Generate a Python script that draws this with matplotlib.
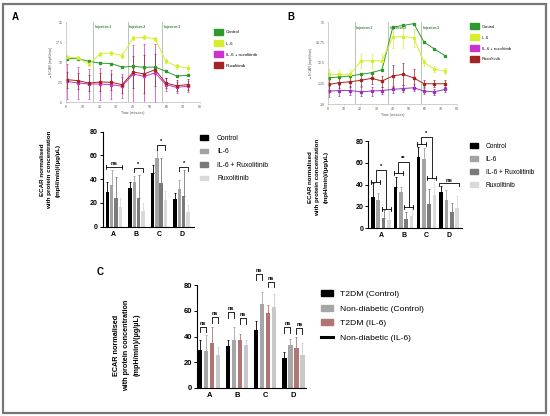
import matplotlib
matplotlib.use('Agg')
import matplotlib.pyplot as plt
import numpy as np
from matplotlib.patches import Patch, Rectangle
from matplotlib.lines import Line2D

plt.rcParams['font.family'] = ['Liberation Sans', 'DejaVu Sans']

# ---------------- data ----------------
time_min = [0.5, 7, 13.8, 20.5, 27, 33.5, 40.2, 46.6, 53.2, 59.6, 66, 72.6]
injections_A = [16.3, 36.8, 57.3]
injections_B = [16.5, 37.2, 57.9]
injection_labels = ['Injection 1', 'Injection 2', 'Injection 3']
line_groups = ['Control', 'IL-6', 'IL-6 + ruxolitinib', 'Ruxolitinib']

ctrl_A = [11.25, 11.25, 10.25, 9.6, 9.4, 8.1, 8.4, 8.0, 8.1, 6.5, 4.75, 5.0]
ctrl_A_err = [0.5, 0.5, 0.5, 0.5, 0.4, 0.4, 0.5, 0.5, 0.5, 0.4, 0.4, 0.4]
il6_A = [11.9, 11.5, 9.25, 13.1, 13.4, 12.4, 19.0, 19.25, 18.75, 10.25, 8.4, 7.75]
il6_A_err = [0.8, 0.8, 0.8, 0.8, 0.8, 0.8, 0.8, 0.8, 0.8, 0.8, 1.0, 1.0]
ilrux_A = [2.75, 2.1, 1.75, 1.75, 1.5, 0.9, 5.5, 4.6, 5.9, 1.5, 0.5, 0.9]
ilrux_A_err = [6.5, 6.0, 5.5, 6.0, 5.5, 4.5, 11.0, 12.0, 11.0, 2.5, 2.0, 2.0]
rux_A = [3.4, 3.0, 2.1, 2.5, 2.4, 1.5, 6.25, 5.5, 7.1, 2.1, 1.1, 1.5]
rux_A_err = [3.0, 3.0, 3.0, 3.5, 3.0, 3.0, 6.0, 7.0, 6.0, 2.0, 2.0, 2.0]

ctrl_B = [4.4, 4.8, 5.4, 6.3, 7.2, 8.8, 32.2, 33.1, 34.1, 23.9, 20.2, 16.5]
ctrl_B_err = [0.5] * 12
il6_B = [6.3, 6.3, 6.3, 13.7, 13.7, 13.7, 26.7, 27.0, 26.3, 12.8, 9.1, 8.1]
il6_B_err = [3.0, 2.5, 2.5, 4.0, 4.0, 4.0, 6.0, 6.0, 5.0, 2.0, 1.5, 1.5]
ilrux_B = [-2.9, -2.6, -2.6, -3.3, -2.9, -2.6, -2.0, -1.5, -1.1, -2.9, -3.3, -2.0]
ilrux_B_err = [3.0, 3.0, 2.5, 2.5, 2.5, 2.0, 2.0, 2.0, 2.0, 1.5, 1.5, 1.5]
rux_B = [0.75, 1.7, 2.2, 3.0, 4.1, 2.6, 5.4, 6.3, 4.3, 1.1, 1.1, 1.1]
rux_B_err = [3.0, 3.0, 3.0, 3.0, 3.0, 3.0, 6.0, 6.0, 5.0, 2.0, 2.0, 2.0]

categories = ['A', 'B', 'C', 'D']
bar_groups = ['Control', 'IL-6', 'IL-6 + Ruxolitinib', 'Ruxolitinib']

# panel A bars (T2DM)
barA_ctrl = [29.5, 32.8, 45.0, 23.6]
barA_ctrl_err = [7.8, 4.5, 7.0, 4.4]
barA_il6 = [35.0, 37.3, 58.0, 31.4]
barA_il6_err = [12.7, 5.0, 6.6, 7.9]
barA_ilrux = [24.4, 23.9, 36.5, 25.8]
barA_ilrux_err = [17.6, 19.6, 21.5, 21.9]
barA_rux = [16.8, 13.5, 22.5, 12.0]
barA_rux_err = [7.1, 6.1, 7.8, 6.2]

# panel B bars (non-diabetic)
barB_ctrl = [28.4, 37.6, 65.6, 33.3]
barB_ctrl_err = [12.8, 9.7, 9.2, 4.9]
barB_il6 = [26.0, 33.3, 63.2, 26.0]
barB_il6_err = [6.0, 4.3, 10.1, 9.0]
barB_ilrux = [9.2, 8.2, 22.3, 14.4]
barB_ilrux_err = [7.6, 6.2, 13.4, 8.5]
barB_rux = [7.6, 11.3, 30.0, 18.3]
barB_rux_err = [7.7, 7.9, 14.9, 11.3]

c_groups = ['T2DM (Control)', 'Non-diabetic (Control)', 'T2DM (IL-6)', 'Non-diabetic (IL-6)']

sig_A = ['ns', '*', '*', '*']
sig_B = ['*', '**', '*', 'ns']

# ---------------- styles ----------------
line_colors_A = ['#2e9a2e', '#d6ee2e', '#cc33cc', '#a52323']
line_colors_B = ['#2e9a2e', '#d6ee2e', '#9933bb', '#a52323']
bar_colors = ['#000000', '#a3a3a3', '#7a7a7a', '#d9d9d9']
c_colors = ['#000000', '#a6a6a6', '#b07575', '#c8c8c8']

fig = plt.figure(figsize=(5.5, 4.16), dpi=100)
W, H = 550.0, 416.0


def fax(x0, y0, x1, y1):
    return fig.add_axes([x0 / W, 1 - y1 / H, (x1 - x0) / W, (y1 - y0) / H])


def line_panel(ax, series, errs, colors, inj, ylim, yticks, inj_y):
    for s, e, c in zip(series, errs, colors):
        ax.errorbar(time_min, s, yerr=e, color=c, lw=0.7, marker='s', ms=1.6,
                    elinewidth=0.5, capsize=1.0, capthick=0.5)
    for xi, lab in zip(inj, injection_labels):
        ax.axvline(xi, color='#a9bda9', lw=0.6)
        ax.text(xi + 1.0, inj_y, lab, fontsize=2.3, color='#2e7d2e',
                fontweight='bold', ha='left', va='center')
    ax.set_xlim(0, 80)
    ax.set_ylim(*ylim)
    ax.set_yticks(yticks)
    ax.set_yticklabels([('%g' % t) for t in yticks])
    ax.set_xticks(range(0, 81, 10))
    for sp in ['top', 'right']:
        ax.spines[sp].set_visible(False)
    for sp in ['left', 'bottom']:
        ax.spines[sp].set_color('#bbbbbb')
        ax.spines[sp].set_linewidth(0.5)
    ax.tick_params(labelsize=2.5, length=1, width=0.4, colors='#bbbbbb',
                   labelcolor='#555555', pad=1)
    ax.set_xlabel('Time (minutes)', fontsize=2.5, color='#555555', labelpad=1.5)
    ax.set_ylabel('\u25cf ECAR (mpH/min)', fontsize=2.5, color='#555555', labelpad=2)


# ---------------- line charts ----------------
axLA = fax(66, 22, 200, 102)
line_panel(axLA, [ctrl_A, il6_A, ilrux_A, rux_A],
           [ctrl_A_err, il6_A_err, ilrux_A_err, rux_A_err],
           line_colors_A, injections_A, (-5, 25), [-5, 2.5, 10, 17.5, 25], 23)
fig.legend(handles=[Patch(color=c, label=l) for c, l in zip(line_colors_A, line_groups)],
           loc='upper left', bbox_to_anchor=(214 / W, 1 - 29 / H), frameon=False,
           fontsize=3.2, handlelength=2.0, handleheight=1.7, labelspacing=1.15,
           handletextpad=0.7, borderpad=0, borderaxespad=0)

axLB = fax(328, 22, 457, 104)
line_panel(axLB, [ctrl_B, il6_B, ilrux_B, rux_B],
           [ctrl_B_err, il6_B_err, ilrux_B_err, rux_B_err],
           line_colors_B, injections_B, (-10, 35), [-10, 1.25, 12.5, 23.75, 35], 31.5)
fig.legend(handles=[Patch(color=c, label=l) for c, l in zip(line_colors_A, line_groups)],
           loc='upper left', bbox_to_anchor=(470 / W, 1 - 23.5 / H), frameon=False,
           fontsize=3.0, handlelength=2.1, handleheight=1.8, labelspacing=1.2,
           handletextpad=0.8, borderpad=0, borderaxespad=0)


# ---------------- bar charts ----------------
def bar_panel(ax, series, errs, colors, width, step, xlim, fs=5):
    x = np.arange(len(categories))
    pos_all = []
    for i, (vals, e, c) in enumerate(zip(series, errs, colors)):
        pos = x + (i - 1.5) * step
        pos_all.append(pos)
        ax.bar(pos, vals, width, color=c, zorder=2)
        ax.errorbar(pos, vals, yerr=[np.zeros(len(vals)), e], fmt='none',
                    ecolor=c, elinewidth=0.6, capsize=1.0, capthick=0.6, zorder=3)
    ax.set_xlim(*xlim)
    ax.set_ylim(0, 80)
    ax.set_yticks([0, 20, 40, 60, 80])
    ax.set_xticks(x)
    ax.set_xticklabels(categories)
    for sp in ['top', 'right']:
        ax.spines[sp].set_visible(False)
    for sp in ['left', 'bottom']:
        ax.spines[sp].set_linewidth(0.8)
    ax.tick_params(labelsize=fs, length=2, width=0.7, pad=1.5)
    ax.tick_params(axis='x', length=0, pad=3)
    for lab in ax.get_xticklabels() + ax.get_yticklabels():
        lab.set_fontweight('bold')
    return np.array(pos_all)


def bracket_down(ax, x1, x2, y, text, h=3.0, fs=4.2, dy=0.8):
    ax.plot([x1, x1, x2, x2], [y - h, y, y, y - h], color='k', lw=0.6, clip_on=False, zorder=4)
    ax.text((x1 + x2) / 2, y + dy, text, ha='center', va='bottom', fontsize=fs,
            fontweight='bold', clip_on=False)


def capline(ax, x1, x2, y, h=1.8):
    ax.plot([x1, x2], [y, y], color='k', lw=0.6, clip_on=False, zorder=4)
    ax.plot([x1, x1], [y - h, y + h], color='k', lw=0.6, clip_on=False, zorder=4)
    ax.plot([x2, x2], [y - h, y + h], color='k', lw=0.6, clip_on=False, zorder=4)


ylab = 'ECAR normalised\nwith protein concentration\n(mpH/min)/(\u00b5g/\u00b5L)'

# Panel A bars
axBA = fax(102.7, 131.7, 194, 226.7)
wA, sA = 0.15, 0.19
pA = bar_panel(axBA, [barA_ctrl, barA_il6, barA_ilrux, barA_rux],
               [barA_ctrl_err, barA_il6_err, barA_ilrux_err, barA_rux_err],
               bar_colors, wA, sA, (-0.49, 3.55))
capline(axBA, pA[0][0] - wA / 2, pA[3][0] + wA / 2, 50)
axBA.text((pA[0][0] + pA[3][0]) / 2, 51.5, sig_A[0], ha='center', va='bottom',
          fontsize=4.2, fontweight='bold')
bracket_down(axBA, pA[1][1], pA[3][1], 49.7, sig_A[1], h=3.5)
bracket_down(axBA, pA[1][2], pA[3][2], 68.8, sig_A[2], h=4.5)
bracket_down(axBA, pA[1][3], pA[3][3], 50.5, sig_A[3], h=3.5)
fig.text(50 / W, 1 - 170 / H, ylab, rotation=90, ha='center', va='center',
         fontsize=4.5, fontweight='bold', linespacing=1.7, multialignment='center')
fig.legend(handles=[Patch(color=c, label=l) for c, l in zip(bar_colors, bar_groups)],
           loc='upper left', bbox_to_anchor=(200 / W, 1 - 135 / H), frameon=False,
           fontsize=4.9, handlelength=1.2, handleheight=0.7, labelspacing=0.95,
           handletextpad=1.3, borderpad=0, borderaxespad=0)

# Panel B bars
axBB = fax(368, 141, 462, 228)
wB, sB = 0.16, 0.235
pB = bar_panel(axBB, [barB_ctrl, barB_il6, barB_ilrux, barB_rux],
               [barB_ctrl_err, barB_il6_err, barB_ilrux_err, barB_rux_err],
               bar_colors, wB, sB, (-0.57, 3.57))


def compound(ax, k, ya, yb, ytop, text):
    xa1, xa2 = pB[0][k] - wB / 2, pB[1][k] + wB / 2
    xb1, xb2 = pB[2][k] - wB / 2, pB[3][k] + wB / 2
    capline(ax, xa1, xa2, ya)
    capline(ax, xb1, xb2, yb)
    ma, mb = (xa1 + xa2) / 2, (xb1 + xb2) / 2
    ax.plot([ma, ma, mb, mb], [ya, ytop, ytop, yb], color='k', lw=0.6,
            clip_on=False, zorder=4)
    ax.text((ma + mb) / 2, ytop + 0.8, text, ha='center', va='bottom', fontsize=4.2,
            fontweight='bold', clip_on=False)


compound(axBB, 0, 42.1, 17.4, 53.4, sig_B[0])
compound(axBB, 1, 50.4, 19.2, 61.0, sig_B[1])
compound(axBB, 2, 77.3, 46.0, 83.4, sig_B[2])
bracket_down(axBB, pB[0][3] - wB / 2, pB[3][3] + wB / 2, 41.0, sig_B[3], h=2.0)
fig.text(318 / W, 1 - 177 / H, ylab, rotation=90, ha='center', va='center',
         fontsize=4.4, fontweight='bold', linespacing=1.75, multialignment='center')
fig.legend(handles=[Patch(color=c, label=l) for c, l in zip(bar_colors, bar_groups)],
           loc='upper left', bbox_to_anchor=(470 / W, 1 - 143 / H), frameon=False,
           fontsize=4.7, handlelength=1.3, handleheight=0.7, labelspacing=0.9,
           handletextpad=1.1, borderpad=0, borderaxespad=0)

# Panel C bars
axBC = fax(197, 285, 306, 388)
wC, sC = 0.155, 0.214
pC = bar_panel(axBC, [barA_ctrl, barB_ctrl, barA_il6, barB_il6],
               [barA_ctrl_err, barB_ctrl_err, barA_il6_err, barB_il6_err],
               c_colors, wC, sC, (-0.43, 3.45), fs=5.5)
c_pairs_y = [(47.7, 55.0), (58.8, 54.0), (88.5, 82.6), (47.5, 46.8)]
for k, (y1, y2) in enumerate(c_pairs_y):
    bracket_down(axBC, pC[0][k], pC[1][k], y1, 'ns', h=4.5, fs=4.0)
    bracket_down(axBC, pC[2][k], pC[3][k], y2, 'ns', h=4.5, fs=4.0)
fig.text(127 / W, 1 - 345 / H, ylab, rotation=90, ha='center', va='center',
         fontsize=5.2, fontweight='bold', linespacing=1.6, multialignment='center')
c_handles = [Patch(color=c, label=l) for c, l in zip(c_colors[:3], c_groups[:3])]
c_handles.append(Line2D([0], [0], color='black', lw=2.2, label=c_groups[3]))
fig.legend(handles=c_handles, loc='upper left', bbox_to_anchor=(321 / W, 1 - 290 / H),
           frameon=False, fontsize=6.1, handlelength=1.4, handleheight=0.7,
           labelspacing=0.8, handletextpad=0.8, borderpad=0, borderaxespad=0)

# panel letters
fig.text(12 / W, 1 - 17 / H, 'A', fontsize=7, fontweight='bold', va='center')
fig.text(287 / W, 1 - 17 / H, 'B', fontsize=7, fontweight='bold', va='center')
fig.text(97 / W, 1 - 272 / H, 'C', fontsize=7, fontweight='bold', va='center')

# figure frame
fig.patches.append(Rectangle((3 / W, 3 / H), 543 / W, 409 / H, transform=fig.transFigure,
                             fill=False, edgecolor='#777777', lw=1.6))

fig.savefig('out.png', dpi=100)
